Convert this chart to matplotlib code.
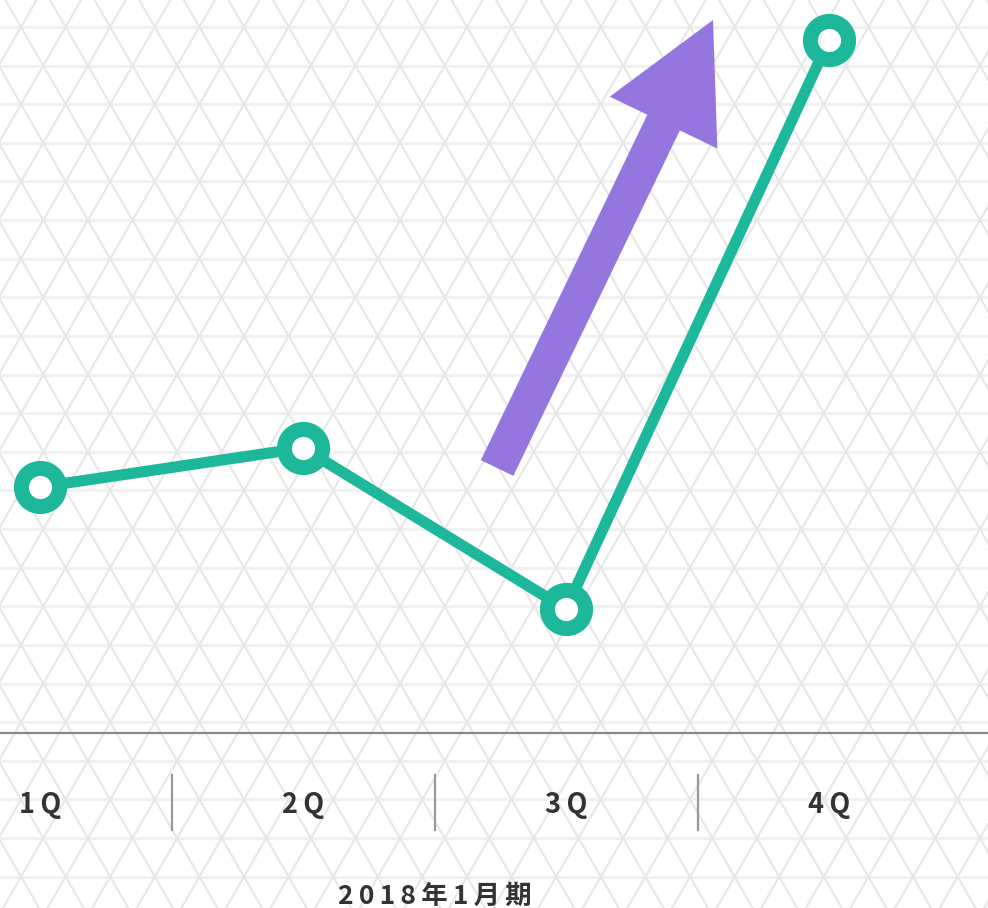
import numpy as np
import matplotlib.pyplot as plt
from matplotlib.patches import FancyArrowPatch
from matplotlib.transforms import blended_transform_factory

plt.rcParams['font.family'] = ['Noto Sans CJK JP', 'DejaVu Sans']

# data
quarters = ['1Q', '2Q', '3Q', '4Q']
values = [246, 285, 124, 693]
period_label = '2018年1月期'

# arrow (data coords: tail -> tip)
arrow_tail = (1.738, 265)
arrow_tip = (2.559, 713)

teal = '#1db799'
purple = '#9575de'
text_col = '#333333'
TS = '\u2009'  # thin space for letter spacing

fig = plt.figure(figsize=(9.88, 9.08), dpi=100)

# background lattice pattern
bg = fig.add_axes([0, 0, 1, 1], zorder=0)
bg.set_xlim(0, 988)
bg.set_ylim(908, 0)
bg.axis('off')
a = 44.6
h = a * np.sqrt(3) / 2
y0, x0 = 27, 21
for k in range(-2, 26):
    bg.plot([0, 988], [y0 + k * h] * 2, color='#f1f1f1', lw=2.2, zorder=0)
t30 = np.tan(np.radians(30))
c0 = x0 - y0 * t30
for n in range(-30, 50):
    c = c0 + n * a
    bg.plot([c, c + 908 * t30], [0, 908], color='#e7e7e7', lw=1.5, zorder=0)
c1 = x0 + y0 * t30
for n in range(-30, 50):
    c = c1 + n * a
    bg.plot([c, c - 908 * t30], [0, 908], color='#e7e7e7', lw=1.5, zorder=0)

# main axes
ax = fig.add_axes([0, 175 / 908, 1, 733 / 908], zorder=1)
ax.patch.set_alpha(0)
x = np.arange(len(quarters))
ax.set_xlim(-40 / 263, 3 + 159 / 263)
ax.set_ylim(0, 733)

ax.plot(x, values, color=teal, lw=8, solid_joinstyle='round', zorder=3,
        marker='o', markersize=27.5, markerfacecolor='white',
        markeredgecolor=teal, markeredgewidth=10.8, clip_on=False)

arrow = FancyArrowPatch(arrow_tail, arrow_tip, transform=ax.transData,
                        arrowstyle='simple,head_length=82,head_width=86,tail_width=26',
                        mutation_scale=1, shrinkA=0, shrinkB=0,
                        color=purple, lw=0, zorder=2)
ax.add_patch(arrow)

for s in ['top', 'left', 'right']:
    ax.spines[s].set_visible(False)
ax.spines['bottom'].set_color('#888888')
ax.spines['bottom'].set_linewidth(1.6)
ax.set_xticks([])
ax.set_yticks([])

tr = blended_transform_factory(ax.transData, ax.transAxes)
for i, q in enumerate(quarters):
    ax.text(i, -(805 - 733) / 733, TS.join(q), transform=tr, ha='center',
            va='center', fontsize=19.5, color=text_col, fontweight='semibold')
for sx in [0.5, 1.5, 2.5]:
    ax.plot([sx, sx], [-(775 - 733) / 733, -(830 - 733) / 733], transform=tr,
            color='#999999', lw=1.6, clip_on=False)
ax.text(1.5, -(896 - 733) / 733, TS.join(period_label), transform=tr,
        ha='center', va='center', fontsize=19, color=text_col, fontweight='bold')

fig.savefig('out.png', dpi=100)
